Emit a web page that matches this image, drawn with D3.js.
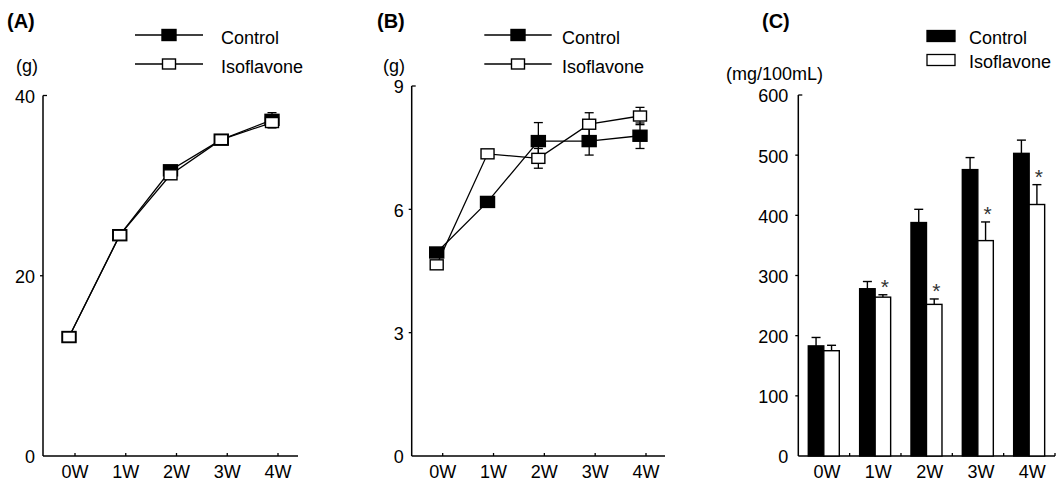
<!DOCTYPE html>
<html>
<head>
<meta charset="utf-8">
<title>Body weight, weight gain and cholesterol</title>
<script src="https://d3js.org/d3.v7.min.js"></script>
<style>
  body { margin: 0; background: #fff; }
  svg { display: block; font-family: "Liberation Sans", Arial, sans-serif; }
</style>
</head>
<body>
<svg id="chart" width="1062" height="483"></svg>
<script>
// categories
const weeks = ['0W', '1W', '2W', '3W', '4W'];

// (A) body weight (g)
const weightTicks = [0, 20, 40];
const weightCtrl    = [13.2, 24.5, 31.7, 35.1, 37.3];
const weightCtrlErr = [0.3, 0.4, 0.5, 0.4, 0.8];
const weightIso     = [13.2, 24.5, 31.2, 35.1, 37.0];
const weightIsoErr  = [0.3, 0.3, 0.5, 0.4, 0.6];

// (B) weight gain (g)
const gainTicks = [0, 3, 6, 9];
const gainCtrl    = [4.95, 6.18, 7.66, 7.66, 7.79];
const gainCtrlErr = [0.08, 0.08, 0.45, 0.34, 0.31];
const gainIso     = [4.65, 7.35, 7.24, 8.07, 8.27];
const gainIsoErr  = [0.06, 0.05, 0.24, 0.28, 0.21];

// (C) serum cholesterol (mg/100mL)
const cholTicks = [0, 100, 200, 300, 400, 500, 600];
const cholCtrl    = [183, 278, 388, 476, 503];
const cholCtrlErr = [14, 12, 22, 20, 22];
const cholIso     = [175, 264, 252, 358, 418];
const cholIsoErr  = [9, 4, 9, 31, 33];
const cholSig     = [false, true, true, true, true];

const groups = ['Control', 'Isoflavone'];

let svg = d3.select('#chart');
svg.append('rect').attr('width', 1062).attr('height', 483).attr('fill', '#fff');

const FS = 18;
const baseY = 456;

// helper for the axes of every panel
function drawAxes(g, x0, x1, yScale, ticks, tickXs, labelGap) {
  // y axis line
  g.append('line').attr('x1', x0).attr('x2', x0)
    .attr('y1', yScale(ticks[ticks.length - 1])).attr('y2', baseY)
    .attr('stroke', '#000').attr('stroke-width', 1.5);
  // x axis line
  g.append('line').attr('x1', x0).attr('x2', x1)
    .attr('y1', baseY).attr('y2', baseY)
    .attr('stroke', '#000').attr('stroke-width', 1.5);

  ticks.forEach((t, i) => {
    let y = yScale(t);
    let top = i === ticks.length - 1;
    if (t !== 0) {
      g.append('line')
        .attr('x1', x0).attr('x2', top ? x0 + 4 : x0 - 3)
        .attr('y1', y).attr('y2', y)
        .attr('stroke', '#000').attr('stroke-width', 1.3);
    }
    g.append('text')
      .attr('x', x0 - labelGap).attr('y', y + FS * 0.36 + 1)
      .attr('text-anchor', 'end').attr('font-size', FS)
      .text(t);
  });

  tickXs.forEach(x => {
    g.append('line').attr('x1', x).attr('x2', x)
      .attr('y1', baseY).attr('y2', baseY - 3)
      .attr('stroke', '#000').attr('stroke-width', 1.3);
  });
}

function drawXLabels(g, xs) {
  weeks.forEach((w, i) => {
    g.append('text').attr('x', xs[i]).attr('y', 478)
      .attr('text-anchor', 'middle').attr('font-size', FS)
      .text(w);
  });
}

function marker(g, cx, cy, filled) {
  let w = filled ? 14 : 13, h = filled ? 11 : 10;
  g.append('rect')
    .attr('x', cx - w / 2).attr('y', cy - h / 2)
    .attr('width', w).attr('height', h)
    .attr('fill', filled ? '#000' : '#fff')
    .attr('stroke', '#000').attr('stroke-width', 1.4);
}

function drawLinePanel(opt) {
  let g = svg.append('g');
  let y = d3.scaleLinear().domain([0, opt.ticks[opt.ticks.length - 1]]).range([baseY, opt.top]);
  let x = d3.scalePoint().domain(weeks).range(opt.xRange);
  let tickXs = weeks.map(w => x(w));

  drawAxes(g, opt.axisX, opt.axisEnd, y, opt.ticks, tickXs, 8);
  drawXLabels(g, tickXs);

  // markers sit a little to the left of the tick marks
  let mx = w => x(w) - 6;
  let series = [
    { vals: opt.ctrl, err: opt.ctrlErr, filled: true },
    { vals: opt.iso, err: opt.isoErr, filled: false }
  ];

  series.forEach(s => {
    s.vals.forEach((v, i) => {
      let cx = mx(weeks[i]);
      let lo = y(v - s.err[i]), hi = y(v + s.err[i]);
      g.append('line').attr('x1', cx).attr('x2', cx).attr('y1', lo).attr('y2', hi)
        .attr('stroke', '#000').attr('stroke-width', 1.3);
      [lo, hi].forEach(yy => {
        g.append('line').attr('x1', cx - 4.5).attr('x2', cx + 4.5).attr('y1', yy).attr('y2', yy)
          .attr('stroke', '#000').attr('stroke-width', 1.3);
      });
    });
  });

  let line = d3.line().x((d, i) => mx(weeks[i])).y(d => y(d));
  series.forEach(s => {
    g.append('path').datum(s.vals).attr('d', line)
      .attr('fill', 'none').attr('stroke', '#000').attr('stroke-width', 1.3);
  });
  series.forEach(s => {
    s.vals.forEach((v, i) => marker(g, mx(weeks[i]), y(v), s.filled));
  });

  // legend
  let leg = opt.legend;
  groups.forEach((name, k) => {
    let ly = leg.y[k];
    g.append('line').attr('x1', leg.x0).attr('x2', leg.x1).attr('y1', ly).attr('y2', ly)
      .attr('stroke', '#000').attr('stroke-width', 1.4);
    marker(g, (leg.x0 + leg.x1) / 2, ly, k === 0);
    g.append('text').attr('x', leg.tx).attr('y', ly + 8.5)
      .attr('font-size', FS).text(name);
  });

  // panel letter and unit
  g.append('text').attr('x', opt.letterX).attr('y', 28)
    .attr('font-size', 20).attr('font-weight', 'bold').text(opt.letter);
  g.append('text').attr('x', opt.unitX).attr('y', 72)
    .attr('font-size', FS).text('(g)');
}

drawLinePanel({
  letter: '(A)', letterX: 7, unitX: 16,
  ticks: weightTicks, top: 95.5,
  axisX: 43, axisEnd: 298, xRange: [75, 278],
  ctrl: weightCtrl, ctrlErr: weightCtrlErr, iso: weightIso, isoErr: weightIsoErr,
  legend: { x0: 135, x1: 203, tx: 221, y: [35, 64] }
});

drawLinePanel({
  letter: '(B)', letterX: 377, unitX: 383,
  ticks: gainTicks, top: 86,
  axisX: 411.7, axisEnd: 665, xRange: [442.7, 646],
  ctrl: gainCtrl, ctrlErr: gainCtrlErr, iso: gainIso, isoErr: gainIsoErr,
  legend: { x0: 484.3, x1: 551.7, tx: 562, y: [35, 64] }
});

// (C) grouped bars
(function () {
  let g = svg.append('g');
  let axisX = 798.3, axisEnd = 1055;
  let y = d3.scaleLinear().domain([0, 600]).range([baseY, 95]);
  let x0 = d3.scaleBand().domain(weeks).range([axisX, axisEnd]);
  let x1 = d3.scaleBand().domain(groups).range([10, 41]);

  let tickXs = weeks.slice(1).map(w => x0(w)).concat([axisEnd]);
  drawAxes(g, axisX, axisEnd, y, cholTicks, tickXs, 10);
  drawXLabels(g, weeks.map(w => x0(w) + x0.bandwidth() / 2 + 3));

  let rows = weeks.map((w, i) => ({
    week: w,
    vals: [
      { key: 'Control', v: cholCtrl[i], e: cholCtrlErr[i] },
      { key: 'Isoflavone', v: cholIso[i], e: cholIsoErr[i] }
    ],
    sig: cholSig[i]
  }));

  rows.forEach(r => {
    r.vals.forEach(d => {
      let bx = x0(r.week) + x1(d.key);
      let cx = bx + x1.bandwidth() / 2;
      // error bar (upper only)
      g.append('line').attr('x1', cx).attr('x2', cx).attr('y1', y(d.v)).attr('y2', y(d.v + d.e))
        .attr('stroke', '#000').attr('stroke-width', 1.4);
      g.append('line').attr('x1', cx - 4.5).attr('x2', cx + 4.5)
        .attr('y1', y(d.v + d.e)).attr('y2', y(d.v + d.e))
        .attr('stroke', '#000').attr('stroke-width', 1.4);
      g.append('rect')
        .attr('x', bx).attr('y', y(d.v))
        .attr('width', x1.bandwidth()).attr('height', baseY - y(d.v))
        .attr('fill', d.key === 'Control' ? '#000' : '#fff')
        .attr('stroke', '#000').attr('stroke-width', 1.4);
    });
    if (r.sig) {
      let d = r.vals[1];
      let cx = x0(r.week) + x1(d.key) + x1.bandwidth() / 2 + 2;
      g.append('text').attr('x', cx).attr('y', y(d.v + d.e) - 1)
        .attr('text-anchor', 'middle').attr('font-size', 21).attr('fill', '#333')
        .text('*');
    }
  });

  // legend
  groups.forEach((name, k) => {
    let ly = [36, 60][k];
    g.append('rect').attr('x', 927).attr('y', ly - 5.5).attr('width', 28).attr('height', 11)
      .attr('fill', k === 0 ? '#000' : '#fff').attr('stroke', '#000').attr('stroke-width', 1.3);
    g.append('text').attr('x', 969).attr('y', ly + 7.5).attr('font-size', FS).text(name);
  });

  g.append('text').attr('x', 762).attr('y', 28)
    .attr('font-size', 20).attr('font-weight', 'bold').text('(C)');
  g.append('text').attr('x', 726).attr('y', 80)
    .attr('font-size', FS).text('(mg/100mL)');
})();
</script>
</body>
</html>
